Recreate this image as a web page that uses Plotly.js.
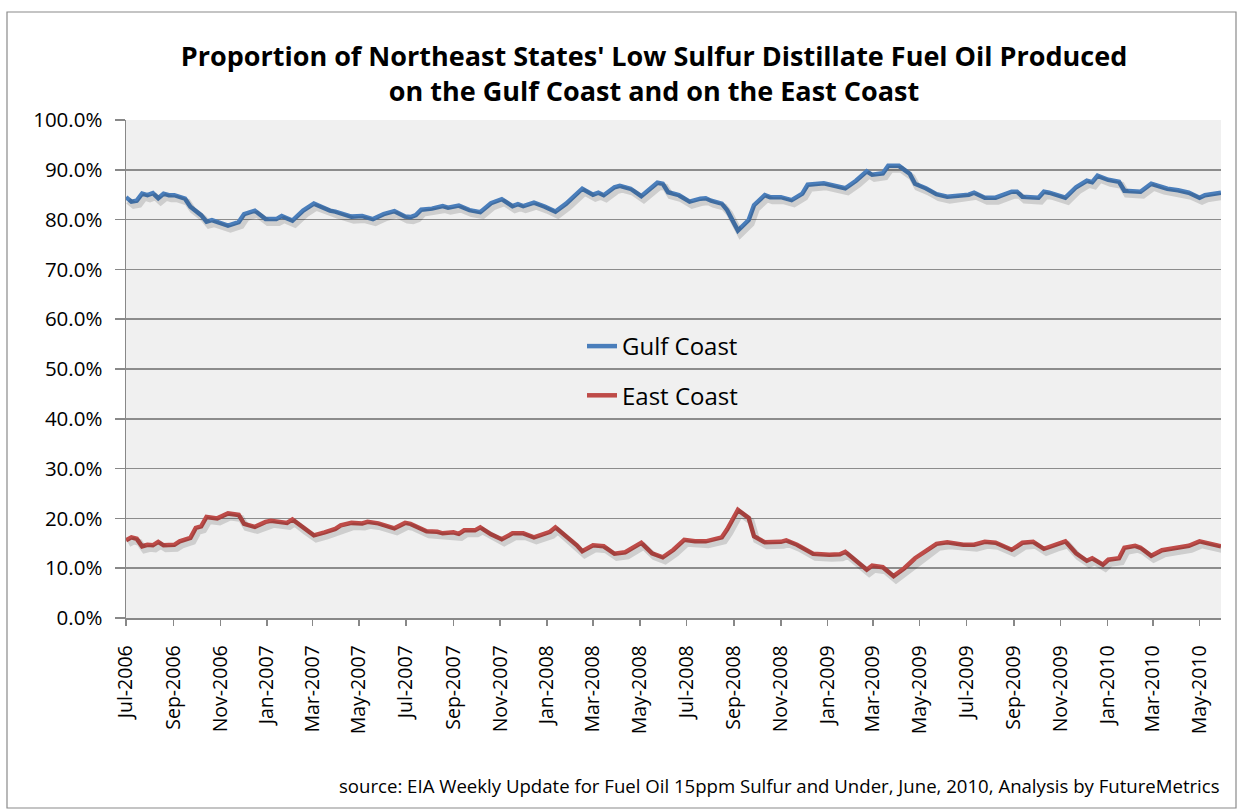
<!DOCTYPE html>
<html>
<head>
<meta charset="utf-8">
<script src="https://cdn.plot.ly/plotly-3.0.1.min.js"></script>
<style>html,body{margin:0;padding:0;background:#fff;}#chart{width:1238px;height:809px;}</style>
</head>
<body>
<div id="chart"></div>
<script>
const gulfDates = ["2006-07-07","2006-07-14","2006-07-21","2006-07-28","2006-08-04","2006-08-11","2006-08-18","2006-08-25","2006-09-01","2006-09-08","2006-09-22","2006-09-29","2006-10-13","2006-10-20","2006-10-27","2006-11-17","2006-12-01","2006-12-08","2006-12-22","2007-01-05","2007-01-19","2007-01-26","2007-02-09","2007-02-23","2007-03-09","2007-03-30","2007-04-06","2007-04-27","2007-05-11","2007-05-25","2007-06-08","2007-06-22","2007-07-06","2007-07-13","2007-07-20","2007-07-27","2007-08-10","2007-08-24","2007-08-31","2007-09-14","2007-09-28","2007-10-12","2007-10-26","2007-11-09","2007-11-23","2007-11-30","2007-12-07","2007-12-21","2008-01-04","2008-01-18","2008-02-01","2008-02-15","2008-02-22","2008-03-07","2008-03-14","2008-03-21","2008-04-04","2008-04-11","2008-04-25","2008-05-09","2008-05-23","2008-05-30","2008-06-06","2008-06-13","2008-06-27","2008-07-11","2008-07-25","2008-08-01","2008-08-08","2008-08-22","2008-08-29","2008-09-12","2008-09-26","2008-10-03","2008-10-17","2008-10-24","2008-11-07","2008-11-21","2008-12-05","2008-12-12","2009-01-02","2009-01-16","2009-01-23","2009-01-30","2009-02-13","2009-02-20","2009-02-27","2009-03-06","2009-03-20","2009-03-27","2009-04-10","2009-04-24","2009-05-01","2009-05-15","2009-05-29","2009-06-12","2009-06-26","2009-07-10","2009-07-17","2009-07-31","2009-08-14","2009-09-04","2009-09-11","2009-09-18","2009-10-09","2009-10-16","2009-10-23","2009-11-13","2009-11-27","2009-12-11","2009-12-18","2009-12-25","2010-01-08","2010-01-22","2010-01-29","2010-02-19","2010-03-05","2010-03-19","2010-03-26","2010-04-09","2010-04-23","2010-05-07","2010-05-14","2010-06-04"];
const gulfValues = [84.5,83.6,83.8,85.2,84.9,85.3,84.3,85.2,84.9,84.9,84.2,82.6,80.9,79.6,79.9,78.8,79.5,81.1,81.8,80.1,80.1,80.7,79.8,81.8,83.2,81.8,81.6,80.6,80.7,80.1,81.1,81.7,80.6,80.5,80.9,82.0,82.2,82.7,82.4,82.8,81.9,81.5,83.3,84.1,82.7,83.1,82.7,83.4,82.6,81.6,83.2,85.2,86.2,85.0,85.4,84.9,86.5,86.8,86.2,84.7,86.5,87.4,87.2,85.5,84.9,83.6,84.2,84.3,83.8,83.2,81.9,77.8,79.9,82.9,84.9,84.5,84.5,83.9,85.2,87.0,87.3,86.8,86.5,86.3,87.8,88.8,89.7,89.0,89.3,90.8,90.8,89.2,87.2,86.3,85.1,84.6,84.9,85.0,85.4,84.4,84.4,85.6,85.6,84.6,84.4,85.6,85.4,84.4,86.5,87.8,87.5,88.8,88.0,87.6,85.8,85.6,87.2,86.4,86.2,85.9,85.4,84.4,84.9,85.4];

const eastDates = ["2006-07-07","2006-07-14","2006-07-21","2006-07-28","2006-08-04","2006-08-11","2006-08-18","2006-08-25","2006-09-08","2006-09-15","2006-09-29","2006-10-06","2006-10-13","2006-10-20","2006-11-03","2006-11-17","2006-12-01","2006-12-08","2006-12-22","2007-01-05","2007-01-12","2007-02-02","2007-02-09","2007-02-23","2007-03-09","2007-03-23","2007-04-06","2007-04-13","2007-04-27","2007-05-11","2007-05-18","2007-06-01","2007-06-15","2007-06-22","2007-07-06","2007-07-13","2007-08-03","2007-08-17","2007-08-24","2007-09-07","2007-09-14","2007-09-21","2007-10-05","2007-10-12","2007-10-26","2007-11-09","2007-11-23","2007-12-07","2007-12-21","2008-01-11","2008-01-18","2008-02-01","2008-02-15","2008-02-22","2008-03-07","2008-03-21","2008-04-04","2008-04-18","2008-05-09","2008-05-23","2008-06-06","2008-06-20","2008-07-04","2008-07-18","2008-08-01","2008-08-22","2008-08-29","2008-09-12","2008-09-26","2008-10-03","2008-10-17","2008-11-07","2008-11-14","2008-11-28","2008-12-19","2009-01-09","2009-01-23","2009-01-30","2009-02-13","2009-02-20","2009-02-27","2009-03-06","2009-03-20","2009-04-03","2009-04-17","2009-05-01","2009-05-15","2009-05-29","2009-06-12","2009-07-03","2009-07-17","2009-07-31","2009-08-14","2009-09-04","2009-09-18","2009-10-02","2009-10-16","2009-10-30","2009-11-13","2009-11-27","2009-12-11","2009-12-18","2010-01-01","2010-01-08","2010-01-22","2010-01-29","2010-02-12","2010-02-19","2010-03-05","2010-03-19","2010-04-02","2010-04-23","2010-05-07","2010-05-21","2010-06-04"];
const eastValues = [15.6,16.2,15.9,14.4,14.7,14.6,15.3,14.6,14.7,15.4,16.1,18.1,18.4,20.3,20.0,21.0,20.7,18.9,18.3,19.3,19.5,19.1,19.8,18.1,16.6,17.2,17.9,18.6,19.1,19.0,19.3,19.0,18.3,18.0,19.1,18.9,17.4,17.3,17.0,17.2,16.9,17.6,17.6,18.2,16.8,15.8,17.0,17.0,16.2,17.3,18.2,16.4,14.6,13.4,14.6,14.4,12.9,13.2,15.1,13.0,12.2,13.7,15.7,15.4,15.4,16.2,17.8,21.7,20.1,16.4,15.2,15.3,15.6,14.7,12.9,12.7,12.8,13.3,11.4,10.5,9.7,10.5,10.2,8.4,10.0,12.0,13.4,14.9,15.2,14.7,14.7,15.3,15.1,13.7,15.1,15.3,13.9,14.7,15.4,13.0,11.5,12.0,10.7,11.7,12.0,14.1,14.5,14.1,12.5,13.6,13.9,14.5,15.4,15.0,14.4];

const seriesNames = ["Gulf Coast", "East Coast"];
const seriesColors = ["#4a7ebb", "#be4b48"];
const titleText = "Proportion of Northeast States' Low Sulfur Distillate Fuel Oil Produced<br>on the Gulf Coast and on the East Coast";
const sourceText = "source: EIA Weekly Update for Fuel Oil 15ppm Sulfur and Under, June, 2010, Analysis by FutureMetrics";

const FONT = "'Open Sans', Lato, sans-serif";
const xStart = "2006-07-07", xEnd = "2010-06-04";
// shadow axes: shifted by a few pixels (right/down)
const pxPerDay = 1095 / 1428;
const shiftDays = 2.5 / pxPerDay;
const shiftPct = 3.5 * 100 / 498;
function addDays(s, d) { const t = new Date(s + "T00:00:00Z").getTime() + d * 86400000; return new Date(t).toISOString().slice(0, 19).replace("T", " "); }

const data = [
  {x: gulfDates, y: gulfValues, xaxis: "x2", yaxis: "y2", mode: "lines", line: {color: "rgba(0,0,0,0.14)", width: 7}, showlegend: false, hoverinfo: "skip"},
  {x: eastDates, y: eastValues, xaxis: "x2", yaxis: "y2", mode: "lines", line: {color: "rgba(0,0,0,0.14)", width: 7}, showlegend: false, hoverinfo: "skip"},
  {x: gulfDates, y: gulfValues, name: seriesNames[0], legendgroup: "g", mode: "lines", line: {color: seriesColors[0], width: 4.5}},
  {x: eastDates, y: eastValues, name: seriesNames[1], legendgroup: "e", mode: "lines", line: {color: seriesColors[1], width: 4.5}}
];

const px2paperX = p => (p - 126) / 1095;
const px2paperY = p => (618 - p) / 498;

const layout = {
  width: 1238, height: 809,
  margin: {l: 126, r: 17, t: 120, b: 191},
  paper_bgcolor: "#ffffff",
  plot_bgcolor: "#f0f0f0",
  font: {family: FONT, color: "#000", size: 18},
  title: {text: titleText, font: {family: FONT, size: 27, color: "#000", weight: "bold"}, xref: "container", x: 654 / 1238, xanchor: "center", yref: "container", y: 1 - 66 / 809, yanchor: "middle"},
  showlegend: true,
  legend: {x: px2paperX(582), y: px2paperY(324), xanchor: "left", yanchor: "top", bgcolor: "rgba(0,0,0,0)", font: {family: FONT, size: 24, color: "#000"}, tracegroupgap: 15},
  xaxis: {
    type: "date", range: [xStart, xEnd], tick0: xStart, dtick: "M2", tickformat: "%b-%Y",
    tickangle: -90, ticks: "outside", ticklen: 6, tickcolor: "#888", tickwidth: 1.5,
    showgrid: false, showline: true, linecolor: "#888", linewidth: 1.5, zeroline: false,
    ticklabelstandoff: 12,
    tickfont: {family: FONT, size: 19.5, color: "#000"}
  },
  yaxis: {
    range: [0, 100], dtick: 10, tickformat: ".1f", ticksuffix: "%",
    ticks: "outside", ticklen: 10, tickcolor: "#888", tickwidth: 1.5,
    showgrid: true, gridcolor: "#8c8c8c", gridwidth: 1.5,
    showline: true, linecolor: "#888", linewidth: 1.5, zeroline: false,
    ticklabelstandoff: 8,
    tickfont: {family: FONT, size: 20.5, color: "#000"}
  },
  xaxis2: {type: "date", overlaying: "x", range: [addDays(xStart, -shiftDays), addDays(xEnd, -shiftDays)], visible: false, showgrid: false},
  yaxis2: {overlaying: "y", range: [shiftPct, 100 + shiftPct], visible: false, showgrid: false},
  shapes: [
    {type: "rect", xref: "paper", yref: "paper", x0: px2paperX(7), x1: px2paperX(1236), y0: px2paperY(808), y1: px2paperY(12), line: {color: "#8a8a8a", width: 1.2}, fillcolor: "rgba(0,0,0,0)", layer: "below"}
  ],
  annotations: [
    {text: sourceText, xref: "paper", yref: "paper", x: px2paperX(1222), y: px2paperY(785), xanchor: "right", yanchor: "middle", showarrow: false, font: {family: FONT, size: 18.6, color: "#000"}}
  ]
};

Plotly.newPlot("chart", data, layout, {staticPlot: true, displayModeBar: false});
</script>
</body>
</html>
